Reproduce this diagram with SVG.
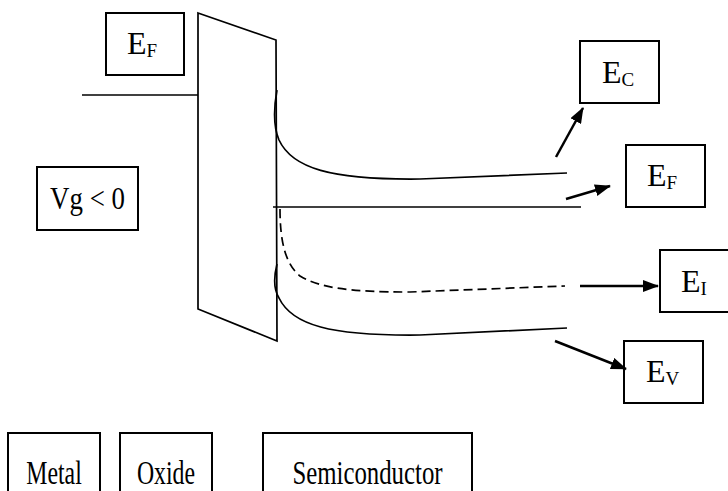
<svg xmlns="http://www.w3.org/2000/svg" width="728" height="491" viewBox="0 0 728 491">
<style>
.box{fill:#fff;stroke:#000;stroke-width:2}
.ln{fill:none;stroke:#000;stroke-width:1.7}
.arr{fill:none;stroke:#000;stroke-width:2.5}
text{font-family:"Liberation Serif","Times New Roman",serif;fill:#000}
.lbl{font-size:32px}
.bot{font-size:34px}
.sub{font-size:19px}
</style>
<defs>
<marker id="ah" markerUnits="userSpaceOnUse" markerWidth="16" markerHeight="12" refX="15" refY="6" orient="auto">
<path d="M0,0 L16,6 L0,12 z" fill="#000"/>
</marker>
</defs>
<rect width="728" height="491" fill="#fff"/>

<g id="metal-level">
<line class="ln" x1="82" y1="95" x2="198" y2="95"/>
</g>

<g id="oxide">
<polygon points="198,13 276,40 277,341 198,309" fill="none" stroke="#000" stroke-width="1.7"/>
</g>

<g id="bands">
<path class="ln" d="M277,90 C273,112 274,128 279,140 C292,168 330,180 420,179 L567,173"/>
<line class="ln" x1="273" y1="207" x2="581" y2="207"/>
<path class="ln" stroke-dasharray="9,5" d="M280,209 C280,240 285,264 300,276 C320,288 350,292 410,292 L565,286"/>
<path class="ln" d="M277,264 C273,280 274,290 279,298 C292,325 330,336 420,335 L567,328"/>
</g>

<g id="ef-metal">
<rect class="box" x="106" y="13" width="78" height="62"/>
<text class="lbl" x="127" y="54">E<tspan class="sub" dy="3">F</tspan></text>
</g>

<g id="vg">
<rect class="box" x="37" y="167" width="101" height="63"/>
<text class="lbl" text-anchor="middle" transform="translate(87.5,209) scale(0.84,1)">Vg &lt; 0</text>
</g>

<g id="ec">
<rect class="box" x="580" y="41" width="79" height="62"/>
<text class="lbl" x="602" y="83">E<tspan class="sub" dy="3">C</tspan></text>
</g>

<g id="ef-semi">
<rect class="box" x="626" y="145" width="79" height="62"/>
<text class="lbl" x="647" y="186">E<tspan class="sub" dy="3">F</tspan></text>
</g>

<g id="ei">
<rect class="box" x="660" y="250" width="80" height="62"/>
<text class="lbl" x="681" y="292">E<tspan class="sub" dy="3">I</tspan></text>
</g>

<g id="ev">
<rect class="box" x="624" y="341" width="79" height="62"/>
<text class="lbl" x="646" y="382">E<tspan class="sub" dy="3">V</tspan></text>
</g>

<g id="metal">
<rect class="box" x="8" y="433" width="92" height="80"/>
<text class="bot" text-anchor="middle" transform="translate(54,484) scale(0.7,1)">Metal</text>
</g>

<g id="oxide-label">
<rect class="box" x="120" y="433" width="92" height="80"/>
<text class="bot" text-anchor="middle" transform="translate(166,484) scale(0.7,1)">Oxide</text>
</g>

<g id="semiconductor">
<rect class="box" x="263" y="433" width="209" height="80"/>
<text class="bot" text-anchor="middle" transform="translate(367.5,484) scale(0.73,1)">Semiconductor</text>
</g>

<g id="connectors">
<line class="arr" x1="556" y1="157" x2="583" y2="108" marker-end="url(#ah)"/>
<line class="arr" x1="566" y1="199" x2="610" y2="186" marker-end="url(#ah)"/>
<line class="arr" x1="580" y1="286" x2="658" y2="286" marker-end="url(#ah)"/>
<line class="arr" x1="555" y1="341" x2="626" y2="369" marker-end="url(#ah)"/>
</g>
</svg>
